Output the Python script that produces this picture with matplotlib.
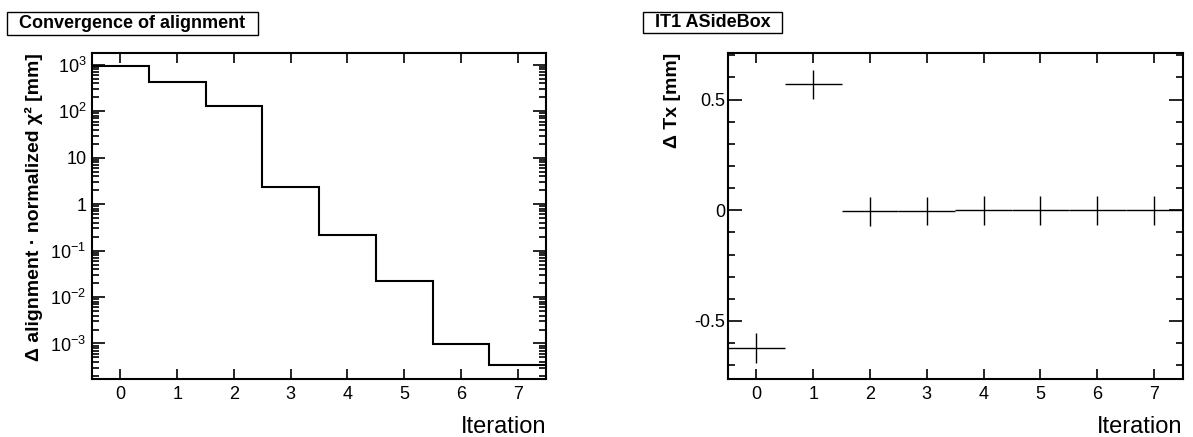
import matplotlib
matplotlib.use("Agg")
import matplotlib.pyplot as plt
import matplotlib.patches as patches
from matplotlib.ticker import FixedLocator, FixedFormatter, LogLocator, MultipleLocator, NullLocator, NullFormatter
import numpy as np

plt.rcParams['font.family'] = ['Liberation Sans', 'DejaVu Sans']
plt.rcParams['mathtext.fontset'] = 'custom'
plt.rcParams['mathtext.rm'] = 'Liberation Sans'
plt.rcParams['mathtext.bf'] = 'Liberation Sans:bold'
plt.rcParams['axes.unicode_minus'] = False

# data
iterations = [0, 1, 2, 3, 4, 5, 6, 7]
chi2 = [950, 420, 130, 2.4, 0.22, 0.022, 0.00097, 0.00034]
tx = [-0.623, 0.568, -0.004, -0.003, 0.0, 0.0, 0.0, 0.0]
tx_err = [0.067, 0.067, 0.065, 0.065, 0.065, 0.065, 0.065, 0.065]
log_ticks = [1e-3, 1e-2, 1e-1, 1, 10, 1e2, 1e3]
log_labels = [r'$\mathregular{10^{-3}}$', r'$\mathregular{10^{-2}}$', r'$\mathregular{10^{-1}}$',
              '1', '10', r'$\mathregular{10^{2}}$', r'$\mathregular{10^{3}}$']

W, H = 1193, 437
fig = plt.figure(figsize=(W / 100, H / 100), dpi=100)

def px_axes(x0, y0, x1, y1):
    return fig.add_axes([x0 / W, 1 - y1 / H, (x1 - x0) / W, (y1 - y0) / H])

def title_box(x0, y0, x1, y1, text):
    fig.patches.append(patches.Rectangle((x0 / W, 1 - y1 / H), (x1 - x0) / W, (y1 - y0) / H,
                                         transform=fig.transFigure, fc='white', ec='black', lw=1.0))
    fig.text((x0 + x1) / 2 / W, 1 - (y0 + y1) / 2 / H, text, ha='center', va='center',
             fontsize=13, fontweight='bold')

def style(ax):
    for s in ax.spines.values():
        s.set_linewidth(1.5)
    ax.tick_params(which='both', direction='in', top=True, right=True, width=1.2, labelsize=13)
    ax.tick_params(axis='x', which='major', length=7, pad=5)
    ax.xaxis.set_major_locator(MultipleLocator(1))
    ax.xaxis.set_minor_locator(NullLocator())
    ax.set_xlim(-0.5, 7.5)
    ax.set_xlabel('Iteration', loc='right', fontsize=17)
    ax.xaxis.set_label_coords(1.0, -0.112)

# left panel: convergence
ax1 = px_axes(92, 53, 546, 379)
edges = np.arange(len(iterations) + 1) - 0.5
ax1.stairs(chi2, edges, baseline=None, color='black', lw=1.5)
ax1.set_yscale('log')
ax1.set_ylim(1.72e-4, 1800)
style(ax1)
ax1.yaxis.set_major_locator(FixedLocator(log_ticks))
ax1.yaxis.set_major_formatter(FixedFormatter(log_labels))
ax1.yaxis.set_minor_locator(LogLocator(base=10, subs=np.arange(2, 10), numticks=20))
ax1.yaxis.set_minor_formatter(NullFormatter())
ax1.tick_params(axis='y', which='major', length=9.5, pad=4)
ax1.tick_params(axis='y', which='minor', length=5)
ax1.set_ylabel('Δ alignment · normalized χ² [mm]', loc='top', fontsize=14, fontweight='bold')
ax1.yaxis.set_label_coords(-0.109, 1.0)
title_box(7, 12, 258, 35, 'Convergence of alignment')

# right panel: Tx
ax2 = px_axes(728, 53, 1182.5, 379)
ax2.errorbar(iterations, tx, xerr=0.5, yerr=tx_err, fmt='none', ecolor='black', elinewidth=1.0, capsize=0)
ax2.set_ylim(-0.762, 0.71)
style(ax2)
ax2.yaxis.set_major_locator(FixedLocator([-0.5, 0, 0.5]))
ax2.yaxis.set_major_formatter(FixedFormatter(['-0.5', '0', '0.5']))
ax2.yaxis.set_minor_locator(MultipleLocator(0.1))
ax2.tick_params(axis='y', which='major', length=10, pad=2)
ax2.tick_params(axis='y', which='minor', length=5)
ax2.set_ylabel('Δ Tx [mm]', loc='top', fontsize=14, fontweight='bold')
ax2.yaxis.set_label_coords(-0.103, 1.0)
title_box(643, 12, 782, 33, 'IT1 ASideBox')

fig.savefig('out.png', dpi=100)
